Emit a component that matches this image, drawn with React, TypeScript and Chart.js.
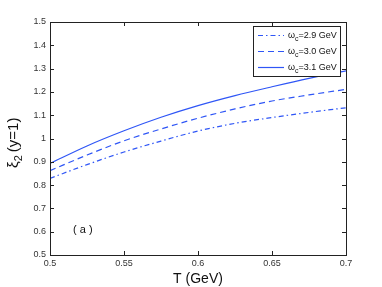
import React, { useEffect, useRef } from "react";
import { Chart, registerables } from "chart.js";

Chart.register(...registerables);

const temps = [0.5, 0.525, 0.55, 0.575, 0.6, 0.625, 0.65, 0.675, 0.7];
const xi29 = [0.829, 0.888, 0.942, 0.989, 1.032, 1.065, 1.09, 1.112, 1.132];
const xi30 = [0.862, 0.929, 0.99, 1.041, 1.087, 1.127, 1.161, 1.187, 1.211];
const xi31 = [0.893, 0.968, 1.033, 1.091, 1.141, 1.184, 1.222, 1.258, 1.29];
const seriesLabels = ["2.9 GeV", "3.0 GeV", "3.1 GeV"];
const xTicks = [0.5, 0.55, 0.6, 0.65, 0.7];
const xTickLabels = ["0.5", "0.55", "0.6", "0.65", "0.7"];
const yTicks = [0.5, 0.6, 0.7, 0.8, 0.9, 1.0, 1.1, 1.2, 1.3, 1.4, 1.5];
const yTickLabels = ["0.5", "0.6", "0.7", "0.8", "0.9", "1", "1.1", "1.2", "1.3", "1.4", "1.5"];

const BLUE = "#2f56f6";
const FONT = "'Liberation Sans', Arial, sans-serif";
const dashes = [[5, 3, 1.5, 3], [6, 4], []];

const decorPlugin = {
  id: "decor",
  afterDraw(chart: any) {
    const { ctx, chartArea: a, scales } = chart;
    const xs = scales.x, ys = scales.y;
    ctx.save();
    // frame
    ctx.strokeStyle = "#222";
    ctx.lineWidth = 1;
    ctx.strokeRect(Math.round(a.left) + 0.5, Math.round(a.top) + 0.5, Math.round(a.right - a.left), Math.round(a.bottom - a.top));
    // inward ticks
    const tl = 4;
    ctx.beginPath();
    xTicks.forEach((v) => {
      const px = Math.round(xs.getPixelForValue(v)) + 0.5;
      ctx.moveTo(px, a.bottom); ctx.lineTo(px, a.bottom - tl);
      ctx.moveTo(px, a.top); ctx.lineTo(px, a.top + tl);
    });
    yTicks.forEach((v) => {
      const py = Math.round(ys.getPixelForValue(v)) + 0.5;
      ctx.moveTo(a.left, py); ctx.lineTo(a.left + tl, py);
      ctx.moveTo(a.right, py); ctx.lineTo(a.right - tl, py);
    });
    ctx.stroke();

    // x title
    ctx.fillStyle = "#111";
    ctx.font = `14px ${FONT}`;
    ctx.textAlign = "center";
    ctx.textBaseline = "alphabetic";
    ctx.fillText("T (GeV)", (a.left + a.right) / 2, 283);

    // y title
    ctx.save();
    ctx.translate(18, 168);
    ctx.rotate(-Math.PI / 2);
    ctx.textAlign = "left";
    ctx.font = `15px ${FONT}`;
    ctx.fillText("ξ", 0, 0);
    let w = ctx.measureText("ξ").width;
    ctx.font = `11px ${FONT}`;
    ctx.fillText("2", w, 4);
    w += ctx.measureText("2").width + 3;
    ctx.font = `15px ${FONT}`;
    ctx.fillText("(y=1)", w, 0);
    ctx.restore();

    // panel label
    ctx.font = `11px ${FONT}`;
    ctx.textAlign = "left";
    ctx.fillText("( a )", 73, 233);

    // legend
    const lx = 253.5, ly = 26.5, lw = 87, lh = 50;
    ctx.fillStyle = "#fff";
    ctx.fillRect(lx, ly, lw, lh);
    ctx.strokeStyle = "#222";
    ctx.lineWidth = 1;
    ctx.strokeRect(lx, ly, lw, lh);
    const rows = [35, 51, 67];
    seriesLabels.forEach((lab, i) => {
      const y = rows[i];
      ctx.strokeStyle = BLUE;
      ctx.lineWidth = 1.2;
      ctx.setLineDash(dashes[i]);
      ctx.beginPath();
      ctx.moveTo(258, y + 0.5);
      ctx.lineTo(284, y + 0.5);
      ctx.stroke();
      ctx.setLineDash([]);
      ctx.fillStyle = "#111";
      ctx.font = `9px ${FONT}`;
      let tx = 288;
      ctx.fillText("ω", tx, y + 3);
      tx += ctx.measureText("ω").width;
      ctx.font = `7px ${FONT}`;
      ctx.fillText("c", tx, y + 6);
      tx += ctx.measureText("c").width;
      ctx.font = `9px ${FONT}`;
      ctx.fillText("=" + lab, tx, y + 3);
    });
    ctx.restore();
  },
};

export default function App() {
  const ref = useRef<HTMLCanvasElement>(null);
  useEffect(() => {
    document.body.style.margin = "0";
    const data = [xi29, xi30, xi31];
    const chart = new Chart(ref.current!, {
      type: "line",
      data: {
        datasets: data.map((d, i) => ({
          label: "ωc=" + seriesLabels[i],
          data: temps.map((t, j) => ({ x: t, y: d[j] })),
          borderColor: BLUE,
          borderWidth: 1.2,
          borderDash: dashes[i],
          pointRadius: 0,
          cubicInterpolationMode: "monotone" as const,
          fill: false,
        })),
      },
      options: {
        responsive: false,
        animation: false,
        layout: { padding: { top: 22, right: 36, left: 0, bottom: 0 } },
        plugins: { legend: { display: false }, tooltip: { enabled: false } },
        scales: {
          x: {
            type: "linear",
            min: 0.5,
            max: 0.7,
            afterBuildTicks: (s: any) => { s.ticks = xTicks.map((v) => ({ value: v })); },
            afterFit: (s: any) => { s.height = 32; },
            grid: { display: false, drawTicks: false },
            border: { display: false },
            ticks: {
              padding: 3,
              maxRotation: 0,
              autoSkip: false,
              color: "#333",
              font: { family: FONT, size: 9 },
              callback: (v: any) => xTickLabels[xTicks.findIndex((t) => Math.abs(t - v) < 1e-6)] ?? "",
            },
          },
          y: {
            type: "linear",
            min: 0.5,
            max: 1.5,
            afterBuildTicks: (s: any) => { s.ticks = yTicks.map((v) => ({ value: v })); },
            afterFit: (s: any) => { s.width = 50; },
            grid: { display: false, drawTicks: false },
            border: { display: false },
            ticks: {
              padding: 4,
              autoSkip: false,
              color: "#333",
              font: { family: FONT, size: 9 },
              callback: (v: any) => yTickLabels[yTicks.findIndex((t) => Math.abs(t - v) < 1e-6)] ?? "",
            },
          },
        },
      },
      plugins: [decorPlugin],
    });
    return () => chart.destroy();
  }, []);
  return <canvas ref={ref} width={382} height={287} style={{ display: "block" }} />;
}
